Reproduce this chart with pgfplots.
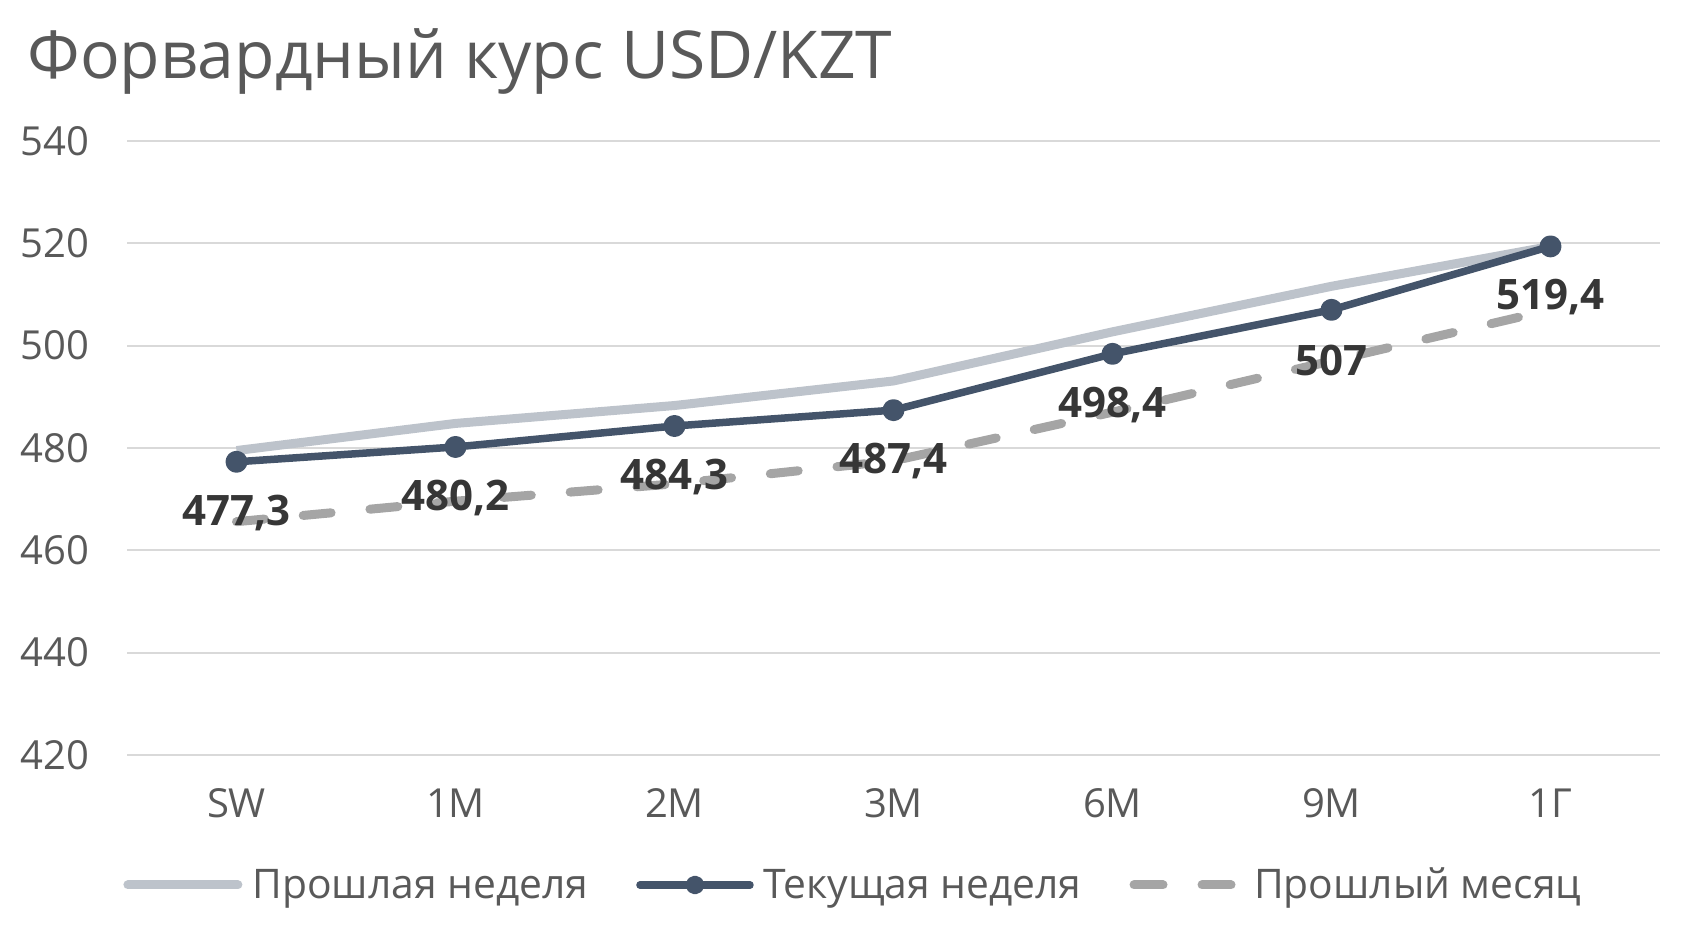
\documentclass[border=0pt]{standalone}
\usepackage{fontspec}
\setmainfont{Open Sans}
\usepackage{pgfplots}
\usepackage{pgfplotstable}
\pgfplotsset{compat=1.18}
\definecolor{lastweek}{HTML}{BDC3CB}
\definecolor{curweek}{HTML}{44546A}
\definecolor{lastmonth}{HTML}{A5A5A5}
\definecolor{txt}{HTML}{595959}
\definecolor{lbl}{HTML}{363636}
\definecolor{gridc}{HTML}{D9D9D9}

% x: SW,1M,2M,3M,6M,9M,1G
\pgfplotstableread{
x prev  cur   curlbl month
0 479.5 477.3 477,3  465.6
1 484.8 480.2 480,2  469.6
2 488.3 484.3 484,3  473.0
3 493.1 487.4 487,4  477.5
4 502.7 498.4 498,4  487.0
5 511.6 507.0 507    497.0
6 519.4 519.4 519,4  507.0
}\data

\begin{document}
\begin{tikzpicture}
\useasboundingbox (0,0) rectangle (850.5pt,470pt);
\node[anchor=base west, text=txt, font=\fontsize{33}{38}\selectfont, inner sep=0pt]
  at (13.5pt,430.5pt) {Форвардный курс USD/KZT};
\begin{axis}[
  at={(63.5pt,92.5pt)}, anchor=south west,
  scale only axis, width=766.5pt, height=307pt,
  xmin=-0.5, xmax=6.5, ymin=420, ymax=540,
  ytick={420,440,...,540},
  xtick={0,...,6}, xticklabels={SW,1M,2M,3M,6M,9M,1Г},
  axis line style={draw=none}, tick style={draw=none},
  ymajorgrids, grid style={gridc, line width=1pt},
  /pgf/number format/assume math mode=true,
  ticklabel style={text=txt, font=\fontsize{20}{22}\selectfont, inner sep=0pt},
  yticklabel style={anchor=east, xshift=-18.5pt},
  xticklabel style={anchor=center, yshift=-24pt},
  legend style={at={(0,0)}, anchor=west, xshift=-5pt, yshift=-65pt,
    draw=none, fill=none, legend columns=-1,
    font=\fontsize{20.4}{22}\selectfont, text=txt,
    /tikz/every odd column/.style={column sep=3pt},
    /tikz/every even column/.style={column sep=22pt}},
  legend cell align=left,
]
\addplot[lastweek, line width=4.5pt, line join=round,
  legend image code/.code={
    \draw[lastweek, line width=4.5pt, line cap=round] (0pt,0pt) -- (55pt,0pt);}]
  table[x=x, y=prev]{\data};
\addlegendentry{Прошлая неделя}
\addplot[curweek, line width=3.75pt, line join=round, mark=*, mark size=3.6pt,
  nodes near coords, point meta=explicit symbolic,
  nodes near coords style={anchor=center, yshift=-25.5pt, text=lbl,
    font=\fontsize{21}{22}\selectfont\bfseries},
  legend image code/.code={
    \draw[curweek, line width=3.75pt, line cap=round] (0pt,0pt) -- (55pt,0pt);
    \fill[curweek] (27.5pt,0pt) circle (2.8pt);}]
  table[x=x, y=cur, meta=curlbl]{\data};
\addlegendentry{Текущая неделя}
\addplot[lastmonth, line width=4.5pt, dash pattern=on 14pt off 19.5pt, line cap=round,
  legend image code/.code={
    \draw[lastmonth, line width=4.5pt, line cap=round, dash pattern=on 14.5pt off 19.5pt]
      (2.25pt,0pt) -- (55pt,0pt);}]
  table[x=x, y=month]{\data};
\addlegendentry{Прошлый месяц}
\end{axis}
\end{tikzpicture}
\end{document}
